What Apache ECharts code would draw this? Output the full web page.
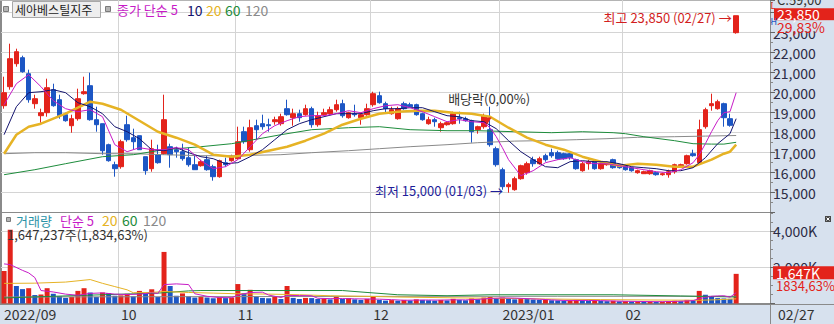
<!DOCTYPE html>
<html><head><meta charset="utf-8">
<script src="https://cdn.jsdelivr.net/npm/echarts/dist/echarts.min.js"></script>
<style>
html,body{margin:0;padding:0;background:#fff;}
#wrap{position:relative;width:834px;height:324px;overflow:hidden;background:#fff;}
.bg{position:absolute;}
#chart{position:absolute;left:0;top:0;width:834px;height:324px;}
</style></head>
<body>
<div id="wrap">
  <div class="bg" style="left:770px;top:0;width:64px;height:324px;background:#d7e1ee;"></div>
  <div class="bg" style="left:0;top:304px;width:834px;height:20px;background:#d7e1ee;border-top:1px solid #8a8a8a;box-sizing:border-box;"></div>
  <div class="bg" style="left:0;top:0;width:2px;height:304px;background:#8a8a8a;"></div>
  <div class="bg" style="left:0;top:0;width:770px;height:1px;background:#b4b4b4;"></div>
  <div id="chart"></div>
</div>
<script>
// ---------------- data ----------------
const dates = [
'2022/09/02','2022/09/05','2022/09/06','2022/09/07','2022/09/08','2022/09/13','2022/09/14','2022/09/15','2022/09/16','2022/09/19',
'2022/09/20','2022/09/21','2022/09/22','2022/09/23','2022/09/26','2022/09/27','2022/09/28','2022/09/29','2022/09/30',
'2022/10/04','2022/10/05','2022/10/06','2022/10/07','2022/10/11','2022/10/12','2022/10/13','2022/10/14','2022/10/17','2022/10/18',
'2022/10/19','2022/10/20','2022/10/21','2022/10/24','2022/10/25','2022/10/26','2022/10/27','2022/10/28','2022/10/31',
'2022/11/01','2022/11/02','2022/11/03','2022/11/04','2022/11/07','2022/11/08','2022/11/09','2022/11/10','2022/11/11','2022/11/14',
'2022/11/15','2022/11/16','2022/11/17','2022/11/18','2022/11/21','2022/11/22','2022/11/23','2022/11/24','2022/11/25','2022/11/28',
'2022/11/29','2022/11/30',
'2022/12/01','2022/12/02','2022/12/05','2022/12/06','2022/12/07','2022/12/08','2022/12/09','2022/12/12','2022/12/13','2022/12/14',
'2022/12/15','2022/12/16','2022/12/19','2022/12/20','2022/12/21','2022/12/22','2022/12/23','2022/12/26','2022/12/27','2022/12/28',
'2022/12/29',
'2023/01/02','2023/01/03','2023/01/04','2023/01/05','2023/01/06','2023/01/09','2023/01/10','2023/01/11','2023/01/12','2023/01/13',
'2023/01/16','2023/01/17','2023/01/18','2023/01/19','2023/01/20','2023/01/25','2023/01/26','2023/01/27','2023/01/30','2023/01/31',
'2023/02/01','2023/02/02','2023/02/03','2023/02/06','2023/02/07','2023/02/08','2023/02/09','2023/02/10','2023/02/13','2023/02/14',
'2023/02/15','2023/02/16','2023/02/17','2023/02/20','2023/02/21','2023/02/22','2023/02/23','2023/02/24','2023/02/27'
];
const padSlots = ['p1','p2','p3','p4','p5'];
const tickDates  = ['2022/09/02','2022/10/04','2022/11/01','2022/12/01','2023/01/02','2023/02/01'];
const tickLabels = ['2022/09','10','11','12','2023/01','02'];

const open = [
19350,20300,21450,21750,20950,19450,18850,19000,20150,19650,
18900,18350,18700,19950,20350,18650,18450,17400,16400,16300,
18400,17750,17850,16800,16200,16900,16950,17300,17150,17050,
16750,16400,16350,16650,16300,15800,16500,16600,16700,18050,
17150,18350,18450,18400,18550,18450,19200,18750,18950,18900,
19200,18400,18900,18950,19150,19450,18750,18950,18750,18900,
19400,19850,19450,18950,18700,19450,19400,19400,18950,18450,
18650,18250,18400,18450,18750,18700,18600,18150,18300,18150,
17200,16150,15300,15150,15700,16000,16650,16450,16850,17000,
17000,16950,16950,16650,16100,16450,16550,16200,16400,16650,
16400,16350,16250,16000,15950,15950,16000,15900,15900,16050,
16300,16450,16950,16500,18300,19350,19200,19450,18700,23000];
const close = [
20000,21700,22050,21050,19650,19700,19000,20250,19350,18850,
18600,18700,19700,20050,18650,18400,17100,16600,16200,17550,
17650,17550,17150,16100,17200,16500,18650,16900,17050,16700,
16400,16150,16550,16150,15800,16600,16400,16800,17550,17550,
18250,18150,18300,18350,18650,18800,18900,18950,18750,19200,
18400,18850,19000,19150,19400,18850,19000,18900,18900,19200,
19950,19500,19200,19150,19200,19200,19300,18900,18650,18650,
18550,18450,18500,18950,18700,18600,18050,18300,18850,17400,
16400,15300,15400,15700,16350,16450,16450,16700,16650,16850,
16700,16700,16750,16200,16450,16550,16200,16450,16500,16250,
16250,16150,16100,16100,16050,16100,15900,15950,16050,16400,
16400,16850,16850,18150,19150,19450,19550,18750,18370,23850];
const high = [
20800,22450,22200,21850,21150,19900,19200,20700,20450,19900,
19000,18900,20200,20800,21000,19300,18450,17450,16550,17650,
18850,18200,17850,16800,17650,17400,19900,17450,17300,17450,
17250,16850,16650,16850,16400,16650,16750,16900,18300,18300,
18650,18650,18900,18700,18800,18950,19650,19200,19150,19400,
19300,19050,19200,19300,19650,19650,19050,19400,19000,19450,
20050,20050,19550,19300,19300,19550,19500,19450,19000,18800,
18750,18550,18550,19050,19050,18800,18650,18350,18950,19300,
17300,16250,15500,15800,16400,16550,16800,16800,16950,17200,
17100,17000,17050,16700,16550,16650,16600,16500,16550,16700,
16450,16400,16300,16150,16100,16150,16050,16000,16150,16450,
16450,16900,17150,18650,19250,19950,19650,19500,18950,23850];
const low = [
19200,20150,21300,21000,19500,19200,18500,18800,19300,18700,
18550,18000,18600,19900,18600,18050,16900,16550,15800,16200,
17550,17150,17150,15900,16050,16450,16900,16250,16750,16600,
16300,16150,16300,16100,15600,15750,16300,16550,16650,17450,
17050,17650,18150,18050,18400,18350,18850,18350,18550,18850,
18250,18300,18850,18900,19050,18750,18700,18800,18400,18850,
19300,19450,18950,18900,18650,19150,19250,18850,18600,18400,
18300,18050,18350,18400,18450,18550,17500,17950,18200,17300,
16300,15150,15000,15100,15650,15900,16300,16400,16550,16750,
16650,16650,16650,16150,16050,16150,16150,16150,16350,16200,
16200,16100,16050,15950,15950,15900,15850,15850,15750,15950,
16250,16400,16800,16500,18200,19100,19150,18300,18300,22950];

// moving averages: [candle index, value]
const ma5 = [[0,19400],[2,20450],[4,20900],[6,20300],[8,19600],[10,19200],[12,19050],[14,19150],[16,18800],[18,17400],[20,17050],[22,17250],[24,17150],[26,17150],[28,17250],[30,17150],[32,16600],[34,16200],[36,16300],[38,16650],[40,17300],[42,17950],[44,18350],[46,18600],[48,18800],[50,18850],[52,18850],[54,18950],[56,19100],[58,19000],[60,19200],[62,19350],[64,19400],[66,19250],[68,19050],[70,18800],[72,18550],[74,18650],[76,18550],[78,18500],[79,18250],[80,17800],[81,17250],[82,16650],[84,15850],[86,16100],[88,16500],[90,16650],[92,16750],[94,16550],[96,16450],[98,16450],[100,16350],[102,16250],[104,16150],[106,16050],[108,16000],[110,16150],[112,16500],[113,16900],[114,17450],[115,18050],[116,18600],[117,19000],[118,19050],[119,20000]];
const ma10 = [[0,17900],[2,19300],[4,20000],[6,20050],[8,20150],[10,20000],[12,19500],[14,19300],[16,18950],[18,18300],[20,18050],[22,17700],[24,17150],[26,17100],[28,17250],[30,17000],[32,16800],[34,16700],[36,16450],[38,16500],[40,16800],[42,17150],[44,17650],[46,18150],[48,18450],[50,18650],[52,18800],[54,18950],[56,18950],[58,18950],[60,19100],[62,19200],[64,19200],[66,19250],[68,19250],[70,19050],[72,18850],[74,18800],[76,18600],[78,18550],[80,18200],[82,17600],[84,17050],[86,16650],[88,16300],[90,16250],[92,16550],[94,16600],[96,16550],[98,16550],[100,16450],[102,16300],[104,16250],[106,16200],[108,16100],[110,16100],[112,16250],[114,16750],[116,17450],[118,17950],[119,18700]];
const ma20 = [[0,16950],[2,17900],[4,18300],[6,18450],[8,18700],[10,18950],[12,19250],[14,19550],[16,19450],[18,19250],[19,19150],[22,18600],[25,18050],[28,17750],[31,17400],[34,16900],[37,16800],[40,16900],[43,17100],[46,17300],[49,17600],[52,17950],[55,18400],[58,18700],[61,18950],[64,19050],[67,19100],[70,19100],[73,19000],[76,18950],[79,18800],[82,18250],[85,17750],[88,17400],[91,17150],[94,16800],[97,16550],[100,16350],[103,16450],[106,16400],[109,16300],[112,16300],[115,16650],[117,16950],[118,17050],[119,17400]];
const ma60 = [[0,15900],[5,16150],[10,16450],[16,16800],[21,16900],[26,17150],[32,17300],[37,17450],[45,17900],[50,18150],[56,18250],[61,18300],[66,18150],[72,18100],[77,18100],[83,18050],[89,18000],[94,18050],[99,18000],[101,17950],[104,17800],[109,17600],[112,17450],[115,17430],[117,17430],[119,17520]];
const ma120 = [[0,16950],[5,17000],[10,17000],[16,16950],[21,16950],[26,16900],[32,16850],[37,16850],[45,16900],[50,17000],[56,17100],[61,17200],[66,17300],[72,17400],[77,17500],[83,17580],[87,17600],[93,17650],[98,17700],[103,17770],[109,17800],[114,17830],[119,17860]];

// volume in thousand shares
const vol = [
1800,4100,973,800,850,470,500,850,540,400,
310,360,700,850,610,360,610,575,430,450,
540,400,700,540,790,360,2865,973,430,560,
400,330,380,330,290,340,300,330,1080,580,
760,400,310,290,400,250,973,310,250,310,
300,250,280,230,360,250,300,230,200,260,
360,200,160,190,160,200,170,230,200,180,
160,200,170,260,200,180,280,230,330,360,
300,330,250,230,300,250,220,200,210,180,
170,150,160,200,180,150,160,140,130,150,
120,130,110,120,100,110,90,100,120,150,
130,200,180,700,486,420,300,280,260,1647];
const vma5 = [[0,2200],[1,2160],[3,1840],[4,1700],[5,1440],[6,720],[8,640],[10,520],[12,460],[14,560],[16,590],[18,520],[20,500],[22,520],[24,590],[25,560],[26,1050],[28,1090],[30,1050],[31,540],[33,400],[35,330],[37,320],[38,470],[40,610],[42,630],[43,470],[45,330],[46,450],[48,440],[50,430],[51,290],[53,270],[55,275],[57,260],[59,250],[61,240],[63,215],[65,180],[67,190],[69,195],[71,190],[73,205],[75,200],[77,230],[79,280],[81,310],[83,300],[85,270],[87,240],[89,200],[91,170],[93,170],[95,170],[97,160],[99,140],[101,125],[103,115],[105,105],[107,100],[109,115],[111,140],[112,160],[113,270],[114,340],[115,400],[116,420],[117,430],[118,350],[119,600]];
const vma20 = [[0,1117],[5,1130],[10,1190],[14,1330],[16,1120],[18,940],[20,760],[21,600],[24,613],[26,667],[30,613],[34,577],[38,540],[43,523],[48,486],[53,432],[59,396],[64,360],[72,320],[80,288],[88,250],[97,216],[105,195],[113,180],[116,210],[119,260]];
const vma60 = [[0,306],[8,400],[16,486],[25,577],[30,700],[32,720],[55,720],[59,613],[64,486],[72,432],[79,486],[99,486],[110,420],[119,360]];
const vma120 = [[0,360],[30,380],[60,396],[90,400],[119,396]];

// ---------------- style ----------------
const RED = '#e3231b', BLUE = '#1c56c4';
const C5 = '#c71bc7', C10 = '#14146e', C20 = '#e6b325', C60 = '#1e8c3c', C120 = '#8a8a8a';
const FONT = "'Liberation Sans Narrow','Noto Sans CJK KR',sans-serif";
const GRIDC = '#d4d4d4', AXC = '#8a8a8a';
const cats = dates.concat(padSlots);
const fmt = v => Math.round(v).toLocaleString('en-US');
const isTick = v => tickDates.indexOf(v) >= 0;

function lineS(data, color, width, xi, yi) {
  return {type:'line', xAxisIndex:xi, yAxisIndex:yi, data, showSymbol:false, symbol:'none',
    lineStyle:{color, width}, silent:true, z:4};
}
function xAx(gi, labels) {
  return {type:'category', gridIndex:gi, data:cats, boundaryGap:true,
    axisLine:{show:true, onZero:false, lineStyle:{color:AXC, width:1}},
    axisTick:{show:false},
    axisLabel:{show:labels, interval:(i,v)=>isTick(v), formatter:v=>tickLabels[tickDates.indexOf(v)],
      align:'left', color:'#333', fontSize:14, lineHeight:15, fontFamily:FONT, margin:3},
    splitLine:{show:true, interval:(i,v)=>tickDates.indexOf(v) > 0, lineStyle:{color:GRIDC, width:1}}};
}

const chart = echarts.init(document.getElementById('chart'), null, {renderer:'svg'});
const option = {
  animation:false,
  grid:[
    {left:1, right:64, top:0, height:212.7, outerBoundsMode:'none'},
    {left:1, right:64, top:212.7, height:90.8, outerBoundsMode:'none'}
  ],
  xAxis:[xAx(0,false), xAx(1,true)],
  yAxis:[
    {type:'value', gridIndex:0, position:'right', min:14000, max:24635, interval:1000, scale:true,
     axisLine:{show:true, lineStyle:{color:AXC}},
     axisTick:{show:true, length:5, lineStyle:{color:'#666'}},
     minorTick:{show:true, splitNumber:2, length:3, lineStyle:{color:'#888'}},
     axisLabel:{color:'#2b2b45', fontSize:14, lineHeight:13, fontFamily:FONT, margin:3, showMinLabel:false, showMaxLabel:false,
       formatter:v => v >= 24000 ? '' : fmt(v)},
     splitLine:{show:true, showMinLine:false, showMaxLine:false, lineStyle:{color:GRIDC}}},
    {type:'value', gridIndex:1, position:'right', min:0, max:5044, interval:2000,
     axisLine:{show:true, lineStyle:{color:AXC}},
     axisTick:{show:true, length:5, lineStyle:{color:'#666'}},
     minorTick:{show:true, splitNumber:4, length:3, lineStyle:{color:'#888'}},
     axisLabel:{color:'#2b2b45', fontSize:14, lineHeight:13, fontFamily:FONT, margin:3, showMinLabel:false, showMaxLabel:false, formatter:v=>fmt(v)+'K'},
     splitLine:{show:true, showMinLine:false, showMaxLine:false, lineStyle:{color:GRIDC}}}
  ],
  series:[
    {type:'candlestick', xAxisIndex:0, yAxisIndex:0, barWidth:5, z:3,
     data: open.map((o,i)=>[o, close[i], low[i], high[i]]),
     itemStyle:{color:RED, color0:BLUE, borderColor:RED, borderColor0:BLUE, borderWidth:1},
     markPoint:{silent:true, data:[
       {coord:[119, 23850], symbol:'circle', symbolSize:1, itemStyle:{color:'rgba(0,0,0,0)'},
        label:{show:true, position:'left', distance:4, offset:[0,2], formatter:'최고 23,850 (02/27) →', color:'#d21e1e', fontSize:13, fontFamily:FONT}},
       {coord:[82, 15000], symbol:'circle', symbolSize:1, itemStyle:{color:'rgba(0,0,0,0)'},
        label:{show:true, position:'left', distance:5, offset:[0,-2.5], formatter:'최저 15,000 (01/03) →', color:'#1e1e9a', fontSize:13, fontFamily:FONT}},
       {coord:[79, 18585], symbol:'path://M0,0 L10,0 L5,8 Z', symbolSize:[9,7], symbolOffset:[-3,0], itemStyle:{color:RED},
        label:{show:true, position:'top', distance:13, offset:[2,0], formatter:'배당락(0,00%)', color:'#333', fontSize:13, fontFamily:FONT}}
     ]}},
    lineS(ma120, C120, 1, 0, 0),
    lineS(ma60, C60, 1, 0, 0),
    lineS(ma20, C20, 2.5, 0, 0),
    lineS(ma10, C10, 1, 0, 0),
    lineS(ma5, C5, 1, 0, 0),
    {type:'bar', xAxisIndex:1, yAxisIndex:1, barWidth:5, z:3,
     data: vol.map((v,i)=>({value:v, itemStyle:{color:(i===0 || v>=vol[i-1]) ? RED : BLUE}}))},
    lineS(vma120, C120, 1, 1, 1),
    lineS(vma60, C60, 1, 1, 1),
    lineS(vma20, C20, 1, 1, 1),
    lineS(vma5, C5, 1, 1, 1)
  ]
};
chart.setOption(option);

// ---------------- overlay texts ----------------
function T(x, y, s, fill, size, lh) {
  return {type:'text', x, y, z:100, silent:true,
    style:{text:s, fill, font:size+'px '+FONT, lineHeight:lh||size, textAlign:'left', textVerticalAlign:'middle', align:'left', verticalAlign:'middle'}};
}
function R(x, y, w, h, fill, stroke) {
  return {type:'rect', z:99, silent:true, shape:{x, y, width:w, height:h}, style:{fill, stroke:stroke||null, lineWidth:1}};
}
const yP = chart.convertToPixel({yAxisIndex:0}, close[close.length-1]);
const yV = chart.convertToPixel({yAxisIndex:1}, vol[vol.length-1]);
const g = [
  // price legend
  R(3.5,6.5,5,5,'#b4b4b4','#7a7a7a'),
  R(12.5,1.5,88,16,'#eeeeee','#a8a8a8'),
  T(15,9.8,'세아베스틸지주','#222',12),
  R(105.5,6.5,5,5,'#b4b4b4','#7a7a7a'),
  T(117,9.5,'종가 단순 5',C5,13),
  T(187,9.5,'10',C10,14),
  T(206,9.5,'20',C20,14),
  T(225,9.5,'60',C60,14),
  T(245,9.5,'120',C120,14),
  // volume legend
  R(6.5,217.5,4,4,'#b4b4b4','#7a7a7a'),
  T(16,220,'거래량','#2a93a8',13),
  T(60,220,'단순 5',C5,13),
  T(102,220,'20',C20,14),
  T(122,220,'60',C60,14),
  T(143,220,'120',C120,14),
  T(7,234,'1,647,237주(1,834,63%)','#333',13),
  // right strip – price
  T(777,-0.5,'C:59,00','#333',13),
  R(774,yP-7.5,60,12,RED),
  T(777,yP-1.5,'23,850','#fff',14,12),
  R(772,yP+5,62,10.5,'#d7e1ee'),
  T(777,yP+11,'29,83%',RED,14,12),
  T(770.5,5.5,'L',RED,9),
  T(770.5,21,'H',BLUE,9),
  // right strip – volume
  {type:'rect', z:99, silent:true, shape:{x:825,y:216,width:6,height:6}, style:{fill:'#4a4a4a'}},
  {type:'line', z:100, silent:true, shape:{x1:826.5,y1:217.5,x2:829.5,y2:220.5}, style:{stroke:'#fff', lineWidth:1}},
  {type:'line', z:100, silent:true, shape:{x1:829.5,y1:217.5,x2:826.5,y2:220.5}, style:{stroke:'#fff', lineWidth:1}},
  R(773,yV-7.5,61,13,RED),
  T(776,yV-1,'1,647K','#fff',14,12),
  T(776,yV+12,'1834,63%',RED,13,12),
  // bottom strip
  {type:'line', z:100, silent:true, shape:{x1:770.5,y1:304,x2:770.5,y2:324}, style:{stroke:AXC, lineWidth:1}},
  T(778,314,'02/27','#333',14)
];
chart.setOption({graphic:{elements:g}});
</script>
</body></html>
